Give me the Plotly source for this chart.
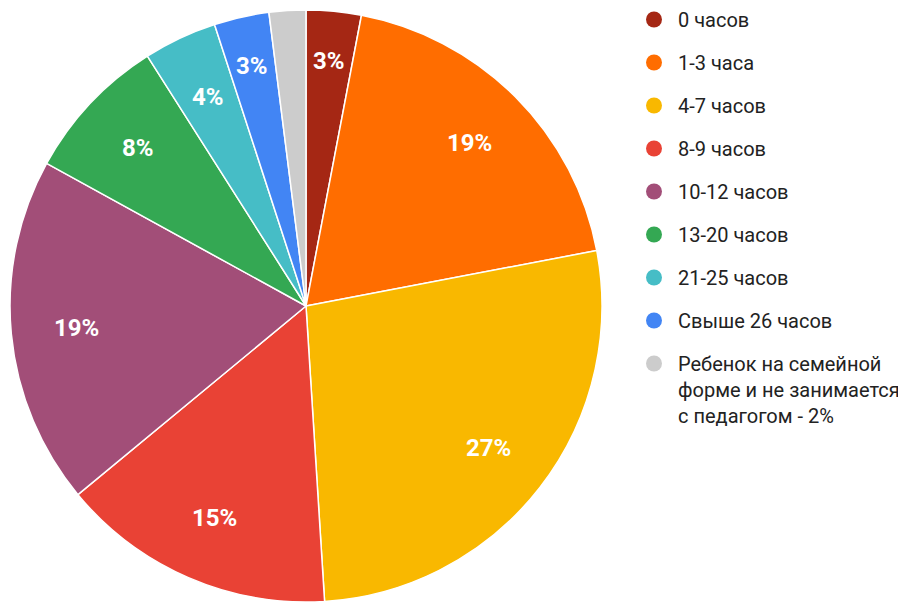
import math
import plotly.graph_objects as go

categories = ["0 часов", "1-3 часа", "4-7 часов", "8-9 часов", "10-12 часов",
              "13-20 часов", "21-25 часов", "Свыше 26 часов",
              "Ребенок на семейной<br>форме и не занимается<br>с педагогом - 2%"]
values = [3, 19, 27, 15, 19, 8, 4, 3, 2]
slice_labels = ["3%", "19%", "27%", "15%", "19%", "8%", "4%", "3%", ""]
colors = ["#a52714", "#ff6d00", "#f9b800", "#e94235", "#a24e78",
          "#34a853", "#46bdc6", "#4285f4", "#cccccc"]

W, H = 906, 602
PIE_W = 596          # pie domain width (px)
PIE_TOP, PIE_BOT = 2, 594   # pie domain vertical extent (px from top)
R = min(PIE_W, PIE_BOT - PIE_TOP) / 2.0
CX = PIE_W / 2.0 / W
CY = 1 - (PIE_TOP + PIE_BOT) / 2.0 / H
LABEL_R = 0.78

fig = go.Figure()
fig.add_trace(go.Pie(
    values=values,
    labels=categories,
    textinfo="none",
    marker=dict(colors=colors, line=dict(color="white", width=1.5)),
    sort=False,
    direction="clockwise",
    rotation=0,
    showlegend=False,
    hoverinfo="skip",
    domain=dict(x=[0, PIE_W / W], y=[1 - PIE_BOT / H, 1 - PIE_TOP / H]),
))

# slice percentage labels placed at the mid-angle of each slice
total = float(sum(values))
cum = 0.0
for v, lab in zip(values, slice_labels):
    mid = (cum + v / 2.0) / total * 2 * math.pi
    cum += v
    if not lab:
        continue
    fr = LABEL_R if v >= 4 else 0.83
    ax = CX + fr * R * math.sin(mid) / W
    ay = CY + fr * R * math.cos(mid) / H
    fig.add_annotation(
        x=ax, y=ay, xref="paper", yref="paper",
        text=f"<b>{lab}</b>", showarrow=False,
        xanchor="center", yanchor="middle",
        font=dict(family="Roboto", size=24, color="white"),
    )

for i, (name, col) in enumerate(zip(categories, colors)):
    fig.add_trace(go.Scatter(
        x=[None], y=[None], mode="markers", name=name,
        marker=dict(symbol="circle", size=19, color=col),
        legendgroup=f"g{i}", showlegend=True,
    ))

fig.update_layout(
    width=W, height=H,
    margin=dict(l=0, r=0, t=0, b=0, autoexpand=False),
    paper_bgcolor="white", plot_bgcolor="white",
    xaxis=dict(visible=False), yaxis=dict(visible=False),
    legend=dict(
        x=622 / W, y=1 + 8 / H, xanchor="left", yanchor="top",
        font=dict(family="Roboto", size=20, color="#222222"),
        tracegroupgap=14, valign="top", itemwidth=38,
        maxheight=590,
        bgcolor="rgba(0,0,0,0)",
    ),
)

fig.write_html("out.html")
